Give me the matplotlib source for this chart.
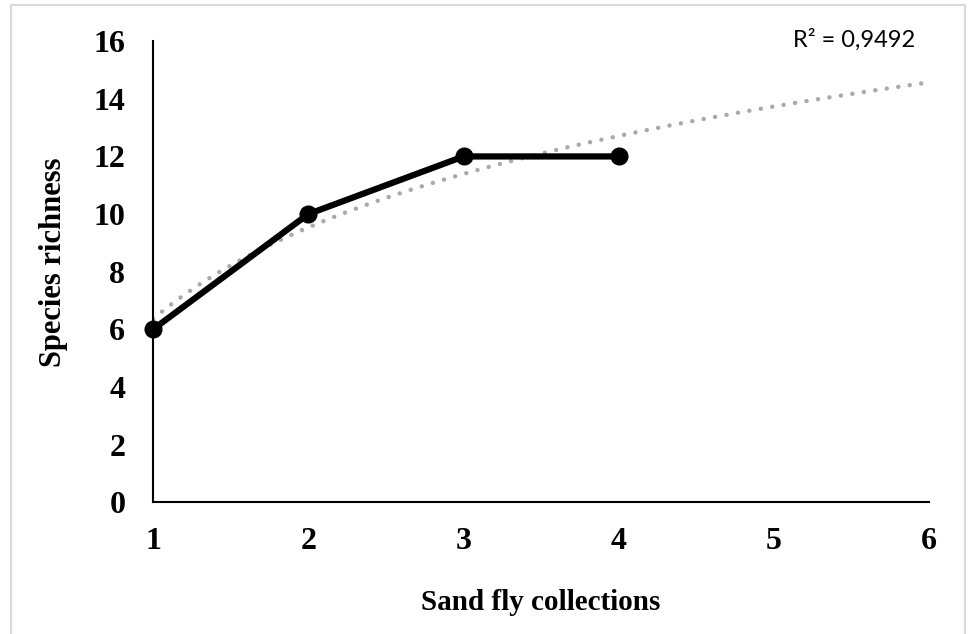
import matplotlib.pyplot as plt
import numpy as np
from matplotlib.lines import Line2D

# Species accumulation curve data
collections = [1, 2, 3, 4]
richness = [6, 10, 12, 12]
x_ticks = [1, 2, 3, 4, 5, 6]
y_ticks = [0, 2, 4, 6, 8, 10, 12, 14, 16]
r2_label = 'R² = 0,9492'

# logarithmic trend line fitted to the data (Excel style)
a, b = np.polyfit(np.log(collections), richness, 1)
xt = np.linspace(1, 6, 200)
yt = a * np.log(xt) + b

fig = plt.figure(figsize=(9.69, 6.34), dpi=100)
ax = fig.add_axes([0.158, 0.208, 0.801, 0.727])

ax.plot(xt, yt, color='#a9a9a9', linestyle=(0, (0.01, 2.6)), linewidth=3.2,
        dash_capstyle='round', zorder=2)
ax.plot(collections, richness, color='black', linewidth=4.5, marker='o',
        markersize=12, zorder=3, clip_on=False)

ax.set_xlim(1, 6)
ax.set_ylim(0, 16)
ax.set_xticks(x_ticks)
ax.set_yticks(y_ticks)
for sp in ['top', 'right']:
    ax.spines[sp].set_visible(False)
for sp in ['left', 'bottom']:
    ax.spines[sp].set_linewidth(1.5)

ax.tick_params(axis='both', length=0, labelsize=23)
ax.tick_params(axis='y', pad=20)
ax.tick_params(axis='x', pad=18)
for lab in ax.get_xticklabels() + ax.get_yticklabels():
    lab.set_fontfamily('Liberation Serif')
    lab.set_fontweight('bold')

ax.set_xlabel('Sand fly collections', fontsize=21, fontweight='bold',
              fontfamily='Liberation Serif', labelpad=24)
ax.set_ylabel('Species richness', fontsize=22, fontweight='bold',
              fontfamily='Liberation Serif', labelpad=18)
ax.yaxis.set_label_coords(-0.11, 0.52)

fig.text(0.881, 0.937, r2_label, fontsize=17, fontfamily='Lato',
         ha='center', va='center')

# light chart border (bottom edge is cut off in the original)
fig.lines.append(Line2D([0.0114, 0.0114, 0.996, 0.996], [0.0, 0.992, 0.992, 0.0],
                        transform=fig.transFigure, color='#d9d9d9', linewidth=1.5))

plt.savefig('out.png', dpi=100)
